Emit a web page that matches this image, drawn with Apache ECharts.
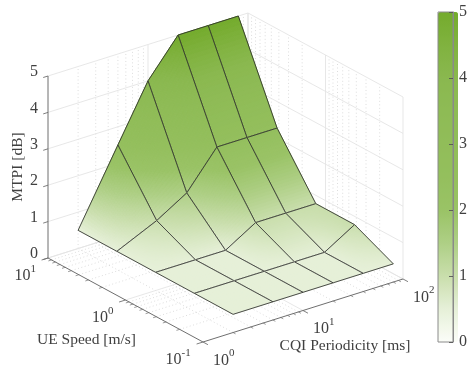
<!DOCTYPE html>
<html><head><meta charset="utf-8">
<style>html,body{margin:0;padding:0;background:#fff}#c{width:470px;height:370px}</style>
<script src="https://cdn.jsdelivr.net/npm/echarts@6/dist/echarts.min.js"></script>
</head><body><div id="c"></div>
<script>
// ---- data ----
const cqiPeriodicity = [2, 5, 10, 20, 40, 80];            // ms
const ueSpeed = [0.1, 0.316, 1, 3.16, 10];                // m/s
const mtpiAt01  = [0.5, 0.5, 0.5, 0.5, 0.5, 0.5];
const mtpiAt03  = [0.5, 0.5, 0.5, 0.5, 0.5, 1.0];
const mtpiAt1   = [0.5, 0.5, 0.5, 1.0, 1.0, 1.0];
const mtpiAt3   = [0.5, 1.0, 1.5, 2.5, 2.5, 2.5];
const mtpiAt10  = [0.5, 2.5, 4.0, 5.0, 5.0, 5.0];
const mtpiRows = [mtpiAt01, mtpiAt03, mtpiAt1, mtpiAt3, mtpiAt10];
const mtpiTicks = [0, 1, 2, 3, 4, 5];
const cqiMajorExp = [0, 1, 2];
const speedMajorExp = [-1, 0, 1];
const minorMultipliers = [2, 3, 4, 5, 6, 7, 8, 9];
const colormap = ['#fbfdf8','#e6f0d8','#c9deac','#aecf85','#9ac366','#94bf5d','#91bd59','#8ebb55','#8ab84f','#80b23f','#74ab2c'];
const TITLES = {z:'MTPI [dB]', speed:'UE Speed [m/s]', cqi:'CQI Periodicity [ms]'};

// ---- scales ----
const aOf = c => Math.log10(c) / 2;              // log CQI axis 1..100 -> 0..1
const bOf = s => (Math.log10(s) + 1) / 2;        // log speed axis 0.1..10 -> 0..1
const cOf = m => m / 5;                          // MTPI axis 0..5 -> 0..1
// oblique view: box coordinates to the plane of the hidden cartesian grid
const view = (a, b, c) => [0.4366 * (1 - b) + 0.5634 * a, 0.1915 * a + 0.2553 * b + 0.5532 * c];
const colorAt = m => echarts.color.lerp(Math.max(0, Math.min(1, m / 5)), colormap);
const FONT = '"Liberation Serif", serif';
const TXT = '#404040', AX = '#6f6f6f', GRID = '#e4e4e4', DOT = '#cfcfcf';

// cells painted from the far corner to the near one
const cells = [];
for (let i = 0; i < ueSpeed.length - 1; i++) for (let j = 0; j < cqiPeriodicity.length - 1; j++) {
  const r = mtpiRows;
  cells.push([i, j, (r[i][j] + r[i+1][j] + r[i][j+1] + r[i+1][j+1]) / 4]);
}
cells.sort((p, q) => (q[0] / 4 + q[1] / 5) - (p[0] / 4 + p[1] / 5));

function renderCell(params, api) {
  const i = api.value(0), j = api.value(1), N = 26;
  const a0 = aOf(cqiPeriodicity[j]), a1 = aOf(cqiPeriodicity[j+1]);
  const b0 = bOf(ueSpeed[i]), b1 = bOf(ueSpeed[i+1]);
  const m00 = mtpiRows[i][j], m01 = mtpiRows[i][j+1], m10 = mtpiRows[i+1][j], m11 = mtpiRows[i+1][j+1];
  const M = (s, t) => (1-s)*(1-t)*m00 + (1-s)*t*m01 + s*(1-t)*m10 + s*t*m11;
  const pt = (s, t) => api.coord(view(a0 + (a1-a0)*t, b0 + (b1-b0)*s, cOf(M(s, t))));
  const ch = [];
  for (let p = N - 1; p >= 0; p--) for (let q = N - 1; q >= 0; q--) {
    const s0 = p/N, s1 = (p+1)/N, t0 = q/N, t1 = (q+1)/N;
    const col = colorAt(M((s0+s1)/2, (t0+t1)/2));
    ch.push({type:'polygon', shape:{points:[pt(s0,t0),pt(s0,t1),pt(s1,t1),pt(s1,t0)]},
      style:{fill:col, stroke:col, lineWidth:1}, silent:true});
  }
  ch.push({type:'polygon', shape:{points:[pt(0,0),pt(0,1),pt(1,1),pt(1,0)]},
    style:{fill:'none', stroke:'#2e2e2e', lineWidth:0.85}, silent:true});
  return {type:'group', children:ch};
}

function renderFrame(params, api) {
  const P = (a, b, c) => api.coord(view(a, b, c));
  const ch = [];
  const line = (p, q, stroke, w, dash) => ch.push({type:'line', silent:true,
    shape:{x1:p[0], y1:p[1], x2:q[0], y2:q[1]},
    style:{stroke, lineWidth:w, lineDash:dash || null}});
  const text = (x, y, t, size, align, rot) => ch.push({type:'text', silent:true, x, y, rotation:rot || 0,
    style:{text:t, fill:TXT, font:size + 'px ' + FONT, textAlign:align, textVerticalAlign:'middle'}});
  const minors = [];
  [0, 1].forEach(d => minorMultipliers.forEach(n => minors.push((Math.log10(n) + d) / 2)));

  // minor (dotted) log grid on floor and back walls
  minors.forEach(f => {
    line(P(f,0,0), P(f,1,0), DOT, 0.7, [1,2.5]);
    line(P(f,1,0), P(f,1,1), DOT, 0.7, [1,2.5]);
    line(P(0,f,0), P(1,f,0), DOT, 0.7, [1,2.5]);
    line(P(1,f,0), P(1,f,1), DOT, 0.7, [1,2.5]);
  });
  // major grid
  [0.5, 1].forEach(f => {
    line(P(f,0,0), P(f,1,0), GRID, 0.9);
    line(P(f,1,0), P(f,1,1), GRID, 0.9);
    line(P(0,f,0), P(1,f,0), GRID, 0.9);
    line(P(1,f,0), P(1,f,1), GRID, 0.9);
  });
  line(P(1,0,0), P(1,0,1), GRID, 0.9);
  mtpiTicks.forEach(m => {
    const c = cOf(m);
    line(P(0,1,c), P(1,1,c), GRID, 0.9);
    line(P(1,1,c), P(1,0,c), GRID, 0.9);
  });
  // axis lines
  line(P(0,1,0), P(0,1,1), AX, 1);
  line(P(0,1,0), P(0,0,0), AX, 1);
  line(P(0,0,0), P(1,0,0), AX, 1);
  // z ticks + labels
  mtpiTicks.forEach(m => {
    const c = cOf(m), p = P(0,1,c);
    line(p, P(-0.024,1,c), AX, 0.9);
    text(p[0] - 10, p[1] - 4, String(m), 16, 'right');
  });
  // log axis ticks
  minors.forEach(f => {
    line(P(f,0,0), P(f,-0.016,0), AX, 0.7);
    line(P(0,f,0), P(-0.016,f,0), AX, 0.7);
  });
  const sup = (x, y, e, size) => text(x, y, String(e), size, 'left');
  cqiMajorExp.forEach(e => {
    const f = e / 2;
    line(P(f,0,0), P(f,-0.032,0), AX, 0.9);
    const p = P(f,0,0), x = p[0] + 10, y = p[1] + 18.5;
    text(x, y, '10', 16, 'left');
    sup(x + 16, y - 7, e, 11);
  });
  speedMajorExp.forEach(e => {
    const f = (e + 1) / 2;
    line(P(0,f,0), P(-0.032,f,0), AX, 0.9);
    const p = P(0,f,0), w = String(e).length > 1 ? 9.5 : 5.5, x = p[0] - 12 - w - 16, y = p[1] + 18;
    text(x, y, '10', 16, 'left');
    sup(x + 16, y - 7, e, 11);
  });
  // axis titles, placed relative to the box
  const l = P(0,1,0.5), f = P(0,0.5,0), r = P(0.5,0,0);
  text(l[0] - 30, l[1], TITLES.z, 15.5, 'center', Math.PI / 2);
  text(f[0] - 39, f[1] + 40, TITLES.speed, 15.5, 'center');
  text(r[0] + 42, r[1] + 35, TITLES.cqi, 15.5, 'center');
  return {type:'group', children:ch};
}

const chart = echarts.init(document.getElementById('c'), null, {renderer:'canvas'});
chart.setOption({
  animation:false,
  backgroundColor:'#fff',
  tooltip:{show:false},
  grid:[
    {left:48, top:13, width:355, height:329, show:false},
    {left:438, top:12, width:20, height:330, show:true, z:10, backgroundColor:'transparent', borderColor:'#8a8a8a', borderWidth:1}
  ],
  xAxis:[
    {gridIndex:0, type:'value', min:0, max:1, show:false},
    {gridIndex:1, type:'value', min:0, max:1, show:false}
  ],
  yAxis:[
    {gridIndex:0, type:'value', min:0, max:1, show:false},
    {gridIndex:1, type:'value', min:0, max:5, interval:1, position:'right', z:11,
     axisLine:{show:true, onZero:false, lineStyle:{color:'#8a8a8a', width:1}},
     axisTick:{show:true, inside:true, length:4, lineStyle:{color:'#555', width:0.9}},
     axisLabel:{show:true, color:TXT, fontFamily:'Liberation Serif', fontSize:16, margin:6, formatter:v => String(v)},
     splitLine:{show:false}}
  ],
  visualMap:{type:'continuous', min:0, max:5, dimension:2, seriesIndex:1, show:true, calculable:false,
    left:438, top:12, itemWidth:20, itemHeight:330, padding:0, text:null, showLabel:false, realtime:false,
    hoverLink:false, inRange:{color:colormap}, outOfRange:{color:colormap}, z:2,
    textStyle:{color:'transparent', fontSize:1}, formatter:()=>''},
  series:[
    {type:'custom', xAxisIndex:0, yAxisIndex:0, data:[[0,0]], renderItem:renderFrame, clip:false, silent:true, z:1},
    {type:'custom', xAxisIndex:0, yAxisIndex:0, data:cells, renderItem:renderCell, clip:false, silent:true, z:2,
     encode:{x:0, y:1}}
  ]
});
</script></body></html>
